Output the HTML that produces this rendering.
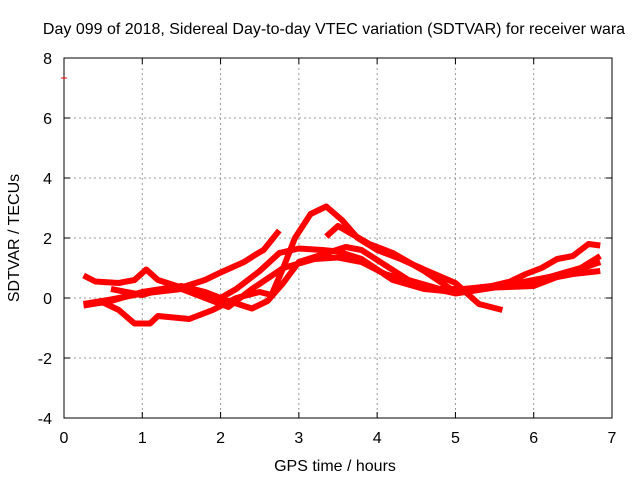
<!DOCTYPE html>
<html><head><meta charset="utf-8"><style>
body{margin:0;background:#fff;width:640px;height:480px;overflow:hidden}
text{font-family:"Liberation Sans",sans-serif;font-size:16px;fill:#000}
</style></head><body>
<svg id="chart" width="640" height="480" xmlns="http://www.w3.org/2000/svg">
<text x="334" y="34" text-anchor="middle">Day 099 of 2018, Sidereal Day-to-day VTEC variation (SDTVAR) for receiver wara</text>
<text x="335" y="471" text-anchor="middle">GPS time / hours</text>
<text transform="translate(19,238) rotate(-90)" text-anchor="middle">SDTVAR / TECUs</text>
<g id="grid"></g><g id="series"></g>
<rect x="64" y="58" width="548" height="360" fill="none" stroke="#000" stroke-width="1"/>
<line x1="61" y1="78" x2="67" y2="78" stroke="#f00"/>
</svg>
<script>
const xTicks=[0,1,2,3,4,5,6,7];
const yTicks=[-4,-2,0,2,4,6,8];
const seriesA=[[0.25,0.75],[0.4,0.55],[0.7,0.5],[0.9,0.6],[1.05,0.95],[1.2,0.6],[1.5,0.35],[1.8,0.6],[2.0,0.85],[2.3,1.2],[2.45,1.45],[2.55,1.6],[2.75,2.25]];
const seriesB=[[0.25,-0.2],[0.5,-0.15],[0.7,-0.4],[0.9,-0.85],[1.1,-0.85],[1.2,-0.6],[1.6,-0.7],[1.9,-0.4],[2.2,0.0],[2.5,0.2],[2.65,0.1],[2.8,1.0],[2.95,2.0],[3.15,2.8],[3.35,3.05],[3.55,2.6],[3.75,2.0],[4.0,1.6],[4.3,1.3],[4.6,0.95],[5.0,0.5],[5.3,-0.2],[5.6,-0.4]];
const seriesC=[[0.25,-0.25],[0.6,-0.1],[1.0,0.2],[1.5,0.4],[1.8,0.2],[2.1,-0.1],[2.4,-0.35],[2.6,-0.1],[2.8,0.5],[3.0,1.2],[3.3,1.45],[3.6,1.7],[3.8,1.6],[4.1,1.1],[4.4,0.6],[4.8,0.3],[5.1,0.3],[5.5,0.4],[6.0,0.55],[6.5,0.8],[6.85,0.9]];
const seriesD=[[0.25,-0.2],[0.6,-0.05],[1.0,0.15],[1.5,0.3],[1.8,0.2],[2.0,0.0],[2.2,0.3],[2.5,0.9],[2.75,1.5],[3.0,1.65],[3.3,1.6],[3.5,1.55],[3.8,1.3],[4.2,0.6],[4.6,0.3],[5.0,0.2],[5.3,0.35],[5.8,0.5],[6.2,0.7],[6.6,1.0],[6.85,1.4]];
const seriesE=[[0.6,0.3],[1.0,0.1],[1.4,0.4],[1.8,0.0],[2.1,-0.3],[2.4,0.3],[2.8,1.0],[3.2,1.3],[3.5,1.35],[3.8,1.2],[4.1,0.8],[4.5,0.45],[5.0,0.15],[5.5,0.35],[6.0,0.4],[6.3,0.7],[6.85,1.2]];
const seriesF=[[3.35,2.05],[3.5,2.4],[3.7,2.1],[3.9,1.8],[4.2,1.5],[4.6,0.9],[5.0,0.2],[5.3,0.3],[5.7,0.55],[5.9,0.8],[6.1,1.0],[6.3,1.3],[6.5,1.4],[6.7,1.8],[6.85,1.75]];
const NS="http://www.w3.org/2000/svg";
const sx=h=>64+h*548/7, sy=v=>298-v*30;
const svg=document.getElementById('chart'),grid=document.getElementById('grid'),ser=document.getElementById('series');
function mk(t,a,p){const e=document.createElementNS(NS,t);for(const k in a)e.setAttribute(k,a[k]);p.appendChild(e);return e;}
xTicks.forEach(t=>{const x=sx(t);
 if(t>0&&t<7){const l=mk('line',{x1:x,y1:58,x2:x,y2:418,stroke:'#999','stroke-dasharray':'2,3'},grid);
 
 }
 mk('line',{x1:x,y1:418,x2:x,y2:412,stroke:'#000'},grid);mk('line',{x1:x,y1:58,x2:x,y2:64,stroke:'#000'},grid);
 const tx=mk('text',{x:x,y:443,'text-anchor':'middle'},svg);tx.textContent=t;
 
 });
yTicks.forEach(t=>{const y=sy(t);
 if(t>-4&&t<8){const l=mk('line',{x1:64,y1:y,x2:612,y2:y,stroke:'#999','stroke-dasharray':'2,3'},grid);
 
 }
 mk('line',{x1:64,y1:y,x2:70,y2:y,stroke:'#000'},grid);mk('line',{x1:612,y1:y,x2:606,y2:y,stroke:'#000'},grid);
 const tx=mk('text',{x:52,y:y+6,'text-anchor':'end'},svg);tx.textContent=t;
 
 });
[seriesA,seriesB,seriesC,seriesD,seriesE,seriesF].forEach(s=>{
 const p=mk('polyline',{points:s.map(d=>sx(d[0])+','+sy(d[1])).join(' '),fill:'none',stroke:'#f00','stroke-width':6,'stroke-linejoin':'round'},ser);
 
 });
</script>
</body></html>
